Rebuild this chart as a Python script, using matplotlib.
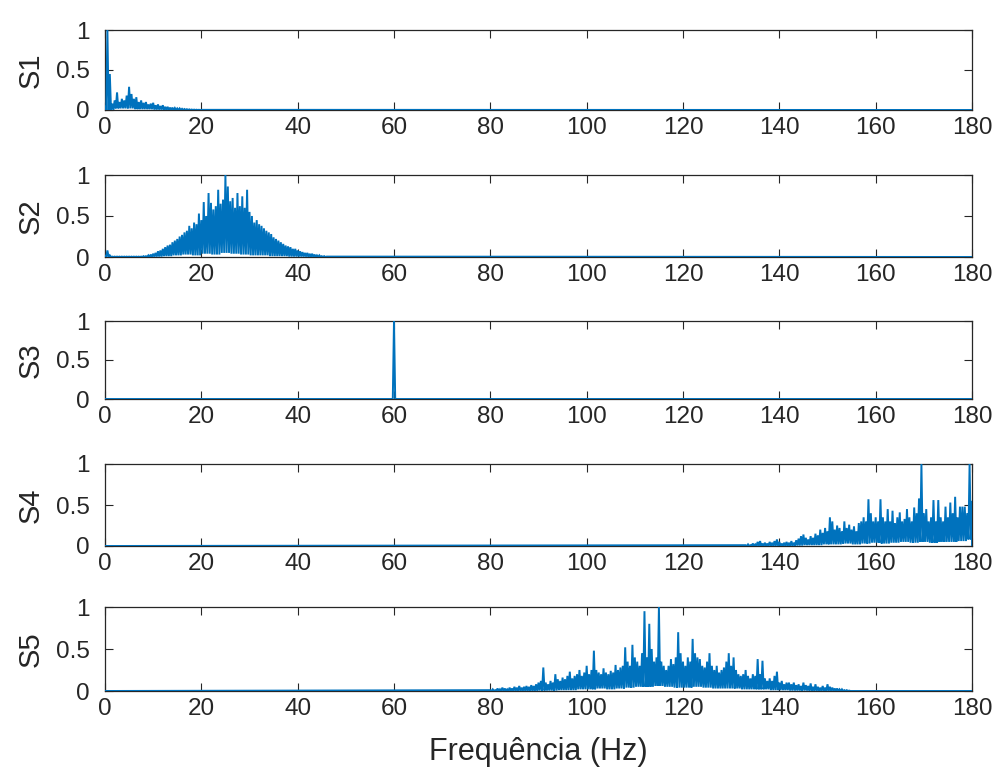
import matplotlib
matplotlib.use('Agg')
import matplotlib.pyplot as plt
import numpy as np

plt.rcParams['font.family'] = ['Liberation Sans', 'DejaVu Sans']

# Spectra: peak amplitudes every 0.5 Hz starting at f0, plus a floor value
# per 2 Hz band for the dips between peaks. Zero outside the listed span.
s1_f0 = 0.0
s1_peaks = [0.05, 1.00, 0.45, 0.08, 0.12, 0.22, 0.10, 0.14, 0.12, 0.18,
            0.29, 0.20, 0.14, 0.16, 0.10, 0.12, 0.09, 0.10, 0.07, 0.08,
            0.09, 0.06, 0.07, 0.05, 0.06, 0.04, 0.04, 0.03, 0.03, 0.025,
            0.02, 0.02, 0.015, 0.012, 0.01, 0.008, 0.006, 0.005, 0.004, 0.003,
            0.002]
s1_floor = [0.0, 0.02, 0.02, 0.01, 0.01, 0.005, 0.0, 0.0, 0.0, 0.0]

s2_f0 = 0.0
s2_peaks = [0.02, 0.08, 0.02, 0.005, 0.005, 0.005, 0.005, 0.005, 0.005, 0.005,
            0.005, 0.005, 0.005, 0.005, 0.005, 0.005, 0.01, 0.01, 0.02, 0.03,
            0.04, 0.05, 0.07, 0.08, 0.10, 0.12, 0.14, 0.15, 0.18, 0.20,
            0.22, 0.25, 0.27, 0.30, 0.32, 0.38, 0.35, 0.42, 0.40, 0.53,
            0.45, 0.67, 0.50, 0.78, 0.66, 0.58, 0.62, 0.82, 0.65, 0.70,
            1.00, 0.86, 0.68, 0.72, 0.60, 0.78, 0.62, 0.74, 0.60, 0.82,
            0.55, 0.50, 0.42, 0.45, 0.40, 0.38, 0.35, 0.32, 0.30, 0.28,
            0.24, 0.22, 0.20, 0.18, 0.16, 0.14, 0.13, 0.12, 0.10, 0.10,
            0.08, 0.07, 0.06, 0.05, 0.05, 0.04, 0.04, 0.03, 0.02, 0.02,
            0.01, 0.01, 0.005]
s2_floor = [0, 0, 0, 0, 0, 0.005, 0.01, 0.02, 0.03, 0.02, 0.04, 0.03,
            0.05, 0.04, 0.03, 0.02, 0.02, 0.01, 0.01, 0.005, 0.005, 0, 0]

s3_f0 = 59.0
s3_peaks = [0.0, 0.0, 1.00, 0.0, 0.0]
s3_floor = [0.0]

s4_f0 = 133.0
s4_peaks = [0.01, 0.02, 0.01, 0.03, 0.02, 0.05, 0.06, 0.03, 0.04, 0.03,
            0.05, 0.04, 0.06, 0.08, 0.05, 0.03, 0.04, 0.05, 0.04, 0.06,
            0.04, 0.07, 0.09, 0.12, 0.14, 0.10, 0.08, 0.12, 0.10, 0.15,
            0.13, 0.20, 0.16, 0.22, 0.18, 0.35, 0.30, 0.20, 0.25, 0.22,
            0.18, 0.30, 0.22, 0.26, 0.20, 0.24, 0.18, 0.28, 0.30, 0.35,
            0.30, 0.57, 0.40, 0.30, 0.35, 0.30, 0.57, 0.35, 0.30, 0.45,
            0.30, 0.43, 0.28, 0.35, 0.41, 0.30, 0.33, 0.45, 0.35, 0.30,
            0.47, 0.40, 0.58, 1.00, 0.40, 0.45, 0.30, 0.35, 0.56, 0.30,
            0.56, 0.35, 0.30, 0.48, 0.35, 0.53, 0.40, 0.60, 0.35, 0.48,
            0.48, 0.48, 0.40, 1.00, 0.55]
s4_floor = [0, 0, 0, 0, 0, 0.005, 0.01, 0.01, 0.02, 0.02, 0.03, 0.02,
            0.03, 0.04, 0.03, 0.04, 0.05, 0.04, 0.05, 0.04, 0.05, 0.05, 0.06, 0.08]

s5_f0 = 80.0
s5_peaks = [0.01, 0.02, 0.01, 0.03, 0.02, 0.04, 0.03, 0.02, 0.04, 0.03,
            0.05, 0.04, 0.06, 0.04, 0.05, 0.06, 0.05, 0.07, 0.06, 0.08,
            0.10, 0.12, 0.28, 0.10, 0.08, 0.12, 0.10, 0.20, 0.14, 0.12,
            0.16, 0.14, 0.18, 0.23, 0.15, 0.18, 0.20, 0.25, 0.18, 0.22,
            0.30, 0.20, 0.25, 0.48, 0.25, 0.22, 0.20, 0.27, 0.22, 0.20,
            0.24, 0.22, 0.31, 0.25, 0.28, 0.30, 0.52, 0.35, 0.30, 0.55,
            0.40, 0.35, 0.30, 0.45, 0.95, 0.40, 0.80, 0.50, 0.35, 0.40,
            1.00, 0.35, 0.30, 0.25, 0.30, 0.38, 0.32, 0.40, 0.70, 0.45,
            0.35, 0.30, 0.40, 0.35, 0.62, 0.45, 0.40, 0.38, 0.30, 0.28,
            0.35, 0.45, 0.30, 0.25, 0.30, 0.22, 0.25, 0.28, 0.35, 0.45,
            0.30, 0.40, 0.25, 0.20, 0.18, 0.20, 0.25, 0.18, 0.15, 0.20,
            0.18, 0.38, 0.20, 0.36, 0.15, 0.12, 0.15, 0.12, 0.18, 0.23,
            0.10, 0.12, 0.08, 0.10, 0.10, 0.08, 0.10, 0.07, 0.08, 0.06,
            0.10, 0.07, 0.06, 0.09, 0.05, 0.08, 0.05, 0.04, 0.06, 0.04,
            0.08, 0.05, 0.04, 0.03, 0.03, 0.02, 0.02, 0.01, 0.01, 0.005,
            0.0]
s5_floor = [0, 0, 0, 0, 0, 0.005, 0.005, 0.01, 0.01, 0.02, 0.02, 0.03, 0.02,
            0.03, 0.04, 0.05, 0.05, 0.06, 0.05, 0.04, 0.04, 0.05, 0.04, 0.03,
            0.03, 0.03, 0.02, 0.02, 0.02, 0.01, 0.01, 0.005, 0.005, 0, 0, 0, 0, 0]

names = ['S1', 'S2', 'S3', 'S4', 'S5']
series = [(s1_f0, s1_peaks, s1_floor), (s2_f0, s2_peaks, s2_floor),
          (s3_f0, s3_peaks, s3_floor), (s4_f0, s4_peaks, s4_floor),
          (s5_f0, s5_peaks, s5_floor)]

FMAX = 180.0
STEP = 0.5
BAND = 2.0


def trace(f0, peaks, floor):
    peaks = np.asarray(peaks, dtype=float)
    floor = np.asarray(floor, dtype=float)
    f = f0 + STEP * np.arange(len(peaks))
    fm = f[:-1] + STEP / 2
    idx = np.minimum(((fm - f0) // BAND).astype(int), len(floor) - 1)
    x = np.empty(2 * len(f) - 1)
    y = np.empty_like(x)
    x[0::2], y[0::2] = f, peaks
    x[1::2], y[1::2] = fm, floor[idx]
    x = np.concatenate([[0.0], x, [FMAX]])
    y = np.concatenate([[0.0], y, [0.0]])
    return x, y


W, H = 996, 779
fig = plt.figure(figsize=(W / 100, H / 100), dpi=100)
fig.patch.set_facecolor('white')

# panel top/bottom edges in pixels
left_px, right_px = 105, 972
rows_px = [(30, 110), (175, 257), (321, 399), (464, 546), (607, 691)]

dark = '#262626'
for k, (name, (f0, pk, fl)) in enumerate(zip(names, series)):
    top, bot = rows_px[k]
    ax = fig.add_axes([left_px / W, 1 - bot / H, (right_px - left_px) / W, (bot - top) / H])
    x, y = trace(f0, pk, fl)
    ax.plot(x, y, color='#0072BD', lw=1.4, zorder=3, solid_joinstyle='miter')
    ax.set_xlim(0, FMAX)
    ax.set_ylim(0, 1)
    ax.set_xticks(np.arange(0, 181, 20))
    ax.set_yticks([0, 0.5, 1])
    ax.set_yticklabels(['0', '0.5', '1'])
    ax.tick_params(direction='in', top=True, right=True, length=6, width=0.8,
                   colors=dark, labelsize=17.5)
    ax.tick_params(axis='x', pad=5)
    ax.tick_params(axis='y', pad=11)
    for s in ax.spines.values():
        s.set_color(dark)
        s.set_linewidth(0.9)
    ax.set_ylabel(name, fontsize=21, color=dark, labelpad=8)

ax.set_xlabel('Frequência (Hz)', fontsize=22, color=dark, labelpad=12)

fig.savefig('out.png', dpi=100, facecolor='white')
